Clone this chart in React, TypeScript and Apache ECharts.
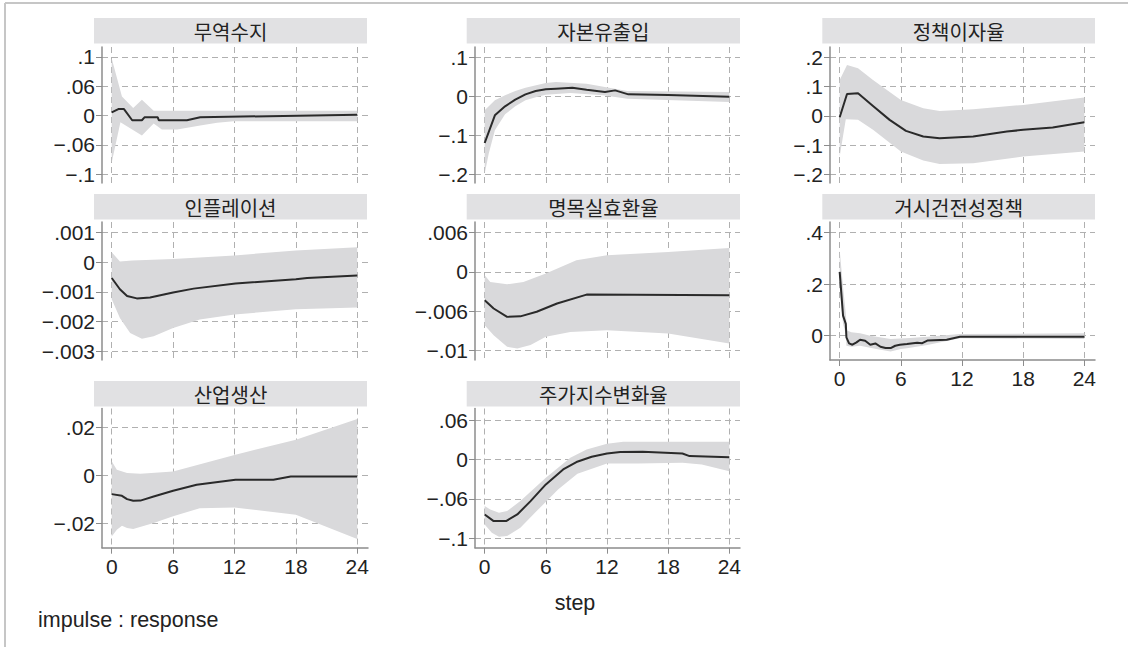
import React, { useEffect, useRef } from "react";
import * as echarts from "echarts";

// ---------- data ----------
const panelTitles = ["무역수지", "자본유출입", "정책이자율", "인플레이션", "명목실효환율", "거시건전성정책", "산업생산", "주가지수변화율"];
const stepTicks = [0, 6, 12, 18, 24];

// 무역수지
const tradeIrf = [[0, 0.0067], [0.65, 0.0135], [1.2, 0.0135], [2, -0.0094], [2.95, -0.0094], [3.2, -0.0034], [4.5, -0.0034], [4.6, -0.0094], [7.35, -0.0094], [8.65, -0.0034], [24, 0.002]];
const tradeUpper = [[0, 0.1167], [1, 0.0391], [2.1, 0.0155], [2.95, 0.0324], [4.1, 0.0101], [24, 0.0101]];
const tradeLower = [[0, -0.096], [0.85, -0.0135], [2.95, -0.0405], [4.1, -0.0162], [4.9, -0.0283], [6.4, -0.0283], [8.65, -0.0202], [10.3, -0.0148], [11.9, -0.0115], [24, -0.0115]];
const tradeTicks = [-0.12, -0.06, 0, 0.06, 0.12];
const tradeLabels = ["−.1", "−.06", "0", ".06", ".1"];

// 자본유출입
const capitalIrf = [[0, -0.12], [1, -0.0488], [2, -0.0257], [3, -0.0086], [4, 0.0051], [5, 0.0137], [6, 0.018], [7, 0.0197], [8.6, 0.0223], [10, 0.0171], [11.8, 0.011], [12.8, 0.0154], [14.1, 0.0051], [18, 0.0034], [24, -0.0009]];
const capitalUpper = [[0, -0.036], [1, -0.0103], [2, 0.0026], [3, 0.0137], [4, 0.0223], [6, 0.0343], [7, 0.0368], [10, 0.0326], [12.2, 0.0223], [14, 0.0137], [24, 0.011]];
const capitalLower = [[0, -0.1988], [0.4, -0.147], [1, -0.0874], [2, -0.0463], [3, -0.0257], [4, -0.0103], [5.1, -0.0017], [6, 0.0043], [8.4, 0.0086], [11.6, 0.0026], [14, -0.006], [24, -0.0146]];
const capitalTicks = [-0.2, -0.1, 0, 0.1];
const capitalLabels = ["−.2", "−.1", "0", ".1"];

// 정책이자율
const rateIrf = [[0, -0.0046], [0.72, 0.0752], [1.8, 0.0775], [3.27, 0.0342], [4.9, -0.0137], [6.5, -0.0513], [8.2, -0.0707], [9.8, -0.0764], [13.1, -0.0707], [16.4, -0.0536], [18, -0.0479], [20.9, -0.0399], [24, -0.0217]];
const rateUpper = [[0, 0.123], [0.72, 0.174], [1.8, 0.163], [3.27, 0.123], [6, 0.0547], [8.2, 0.0262], [9.8, 0.0171], [13.1, 0.0228], [18, 0.0376], [24, 0.0627]];
const rateLower = [[0, -0.139], [0.6, -0.0114], [1.8, -0.0137], [3.27, -0.0479], [6, -0.122], [8.2, -0.153], [9.8, -0.165], [13.1, -0.162], [18, -0.139], [24, -0.122]];
const rateTicks = [-0.2, -0.1, 0, 0.1, 0.2];
const rateLabels = ["−.2", "−.1", "0", ".1", ".2"];

// 인플레이션
const inflIrf = [[0, -0.00053], [0.8, -0.00091], [1.5, -0.00114], [2.45, -0.00122], [3.75, -0.00119], [6, -0.00102], [8, -0.00089], [12.1, -0.00072], [18, -0.00057], [19.1, -0.00053], [24, -0.00045]];
const inflUpper = [[0, 0.00034], [0.8, 0.00003], [2, 0.00006], [6, 0.00011], [12, 0.00023], [18, 0.0004], [24, 0.00051]];
const inflLower = [[0, -0.00125], [0.8, -0.00188], [1.8, -0.00239], [2.95, -0.00258], [4.1, -0.0025], [6, -0.00222], [8.6, -0.00193], [12, -0.00176], [18, -0.00159], [24, -0.00153]];
const inflTicks = [-0.003, -0.002, -0.001, 0, 0.001];
const inflLabels = ["−.003", "−.002", "−.001", "0", ".001"];

// 명목실효환율
const fxIrf = [[0, -0.00433], [0.88, -0.0056], [2.2, -0.00688], [3.5, -0.0068], [5.1, -0.0061], [7.1, -0.00484], [10, -0.00347], [24, -0.00357]];
const fxUpper = [[0, -0.0005], [0.55, -0.00153], [2.2, -0.00189], [3.8, -0.00153], [6, -0.00025], [9, 0.0018], [12, 0.00255], [18, 0.00306], [24, 0.00367]];
const fxLower = [[0, -0.00816], [0.88, -0.0097], [2.2, -0.01147], [3.2, -0.01172], [4.5, -0.0112], [6, -0.00994], [8.4, -0.00918], [12, -0.00892], [18, -0.00943], [24, -0.01096]];
const fxTicks = [-0.012, -0.006, 0, 0.006];
const fxLabels = ["−.01", "−.006", "0", ".006"];

// 거시건전성정책
const macroIrf = [[0, 0.248], [0.33, 0.078], [0.6, 0.046], [0.66, -0.0065], [0.92, -0.03], [1.25, -0.035], [1.65, -0.026], [2, -0.0156], [2.5, -0.0195], [3, -0.035], [3.5, -0.03], [4, -0.043], [4.5, -0.048], [5, -0.048], [5.45, -0.039], [5.9, -0.035], [6.6, -0.032], [7.6, -0.027], [8.1, -0.029], [8.6, -0.019], [10.5, -0.016], [11.8, -0.004], [24, -0.004]];
const macroUpper = [[0, 0.332], [0.33, 0.189], [0.6, 0.085], [0.73, 0.02], [1.15, 0.013], [2, 0.009], [3, 0], [5, -0.013], [6.9, -0.009], [8.6, -0.004], [11.8, 0.0065], [24, 0.009]];
const macroLower = [[0, 0.189], [0.33, 0.046], [0.6, 0.0065], [0.66, -0.039], [1.15, -0.043], [2, -0.039], [3.6, -0.052], [5, -0.061], [6, -0.052], [6.6, -0.049], [8.6, -0.036], [11.8, -0.01], [24, -0.013]];
const macroTicks = [0, 0.2, 0.4];
const macroLabels = ["0", ".2", ".4"];

// 산업생산
const ipIrf = [[0, -0.0078], [1, -0.0085], [1.5, -0.0099], [2.1, -0.0106], [2.8, -0.0105], [4.1, -0.0088], [6, -0.0064], [8.3, -0.0039], [10, -0.0029], [12.1, -0.0018], [15.8, -0.0018], [17.5, -0.0004], [24, -0.0004]];
const ipUpper = [[0, 0.0059], [0.5, 0.0024], [1.5, 0.001], [2.8, 0.0007], [6, 0.0017], [12, 0.0086], [18, 0.0149], [24, 0.0236]];
const ipLower = [[0, -0.0255], [0.5, -0.0227], [1, -0.021], [1.5, -0.022], [2.1, -0.0224], [4.1, -0.0199], [6, -0.0171], [8.6, -0.0137], [12, -0.0134], [18, -0.0164], [24, -0.0266]];
const ipTicks = [-0.02, 0, 0.02];
const ipLabels = ["−.02", "0", ".02"];

// 주가지수변화율
const stockIrf = [[0, -0.0837], [0.88, -0.0938], [2.1, -0.0938], [3.2, -0.0837], [4.5, -0.0634], [6, -0.038], [7.7, -0.0152], [9, -0.004], [10.5, 0.004], [12, 0.0091], [13.3, 0.0112], [15.5, 0.0117], [19.4, 0.0091], [20.1, 0.0051], [24, 0.0035]];
const stockUpper = [[0, -0.071], [0.55, -0.076], [1.4, -0.081], [2.2, -0.0786], [3.5, -0.0634], [6, -0.0279], [8.4, 0.0025], [10, 0.0152], [12, 0.0238], [13.6, 0.0269], [24, 0.0269]];
const stockLower = [[0, -0.0989], [0.7, -0.1116], [1.4, -0.1177], [2.2, -0.1166], [3.5, -0.104], [5.1, -0.0786], [7.2, -0.0456], [9.1, -0.0218], [12, -0.0061], [15, -0.0061], [19.4, -0.0051], [21.3, -0.0076], [24, -0.0178]];
const stockTicks = [-0.12, -0.06, 0, 0.06];
const stockLabels = ["−.1", "−.06", "0", ".06"];

// ---------- layout ----------
const colLeft = [102, 475, 830];
const colWidth = [266, 265, 265];
const barLeft = [94, 466.7, 822.3];
const barRight = [367, 740, 1095];
const rowTop = [47, 222, 408.5];
const rowBottom = [183, 360, 547.7];
const barTop = [18, 194, 381];
const barHeight = 25.5;

const panels = [
  { irf: tradeIrf, up: tradeUpper, lo: tradeLower, ticks: tradeTicks, labels: tradeLabels, min: -0.1378, max: 0.1404, col: 0, row: 0, showX: false },
  { irf: capitalIrf, up: capitalUpper, lo: capitalLower, ticks: capitalTicks, labels: capitalLabels, min: -0.223, max: 0.127, col: 1, row: 0, showX: false },
  { irf: rateIrf, up: rateUpper, lo: rateLower, ticks: rateTicks, labels: rateLabels, min: -0.23, max: 0.236, col: 2, row: 0, showX: false },
  { irf: inflIrf, up: inflUpper, lo: inflLower, ticks: inflTicks, labels: inflLabels, min: -0.0033, max: 0.00136, col: 0, row: 1, showX: false },
  { irf: fxIrf, up: fxUpper, lo: fxLower, ticks: fxTicks, labels: fxLabels, min: -0.01348, max: 0.00764, col: 1, row: 1, showX: false },
  { irf: macroIrf, up: macroUpper, lo: macroLower, ticks: macroTicks, labels: macroLabels, min: -0.0944, max: 0.4415, col: 2, row: 1, showX: true },
  { irf: ipIrf, up: ipUpper, lo: ipLower, ticks: ipTicks, labels: ipLabels, min: -0.0302, max: 0.028, col: 0, row: 2, showX: true },
  { irf: stockIrf, up: stockUpper, lo: stockLower, ticks: stockTicks, labels: stockLabels, min: -0.1343, max: 0.0775, col: 1, row: 2, showX: true },
];

const FONT = "Liberation Sans";
const KFONT = "Noto Sans CJK KR";
const AXIS_COLOR = "#8c8c8c";
const GRID_COLOR = "#b0b0b0";
const BAND_COLOR = "#d9d9db";
const LINE_COLOR = "#2a2a2a";
const BAR_COLOR = "#e1e1e3";

export default function App() {
  const ref = useRef<HTMLDivElement>(null);
  useEffect(() => {
    if (!ref.current) return;
    const chart = echarts.init(ref.current, null, { renderer: "svg" });

    const grid: any[] = [];
    const xAxis: any[] = [];
    const yAxis: any[] = [];
    const series: any[] = [];
    const graphic: any[] = [
      { type: "line", shape: { x1: 5, y1: 3, x2: 1128, y2: 3 }, style: { stroke: "#c6c6c6", lineWidth: 2 } },
      { type: "line", shape: { x1: 5, y1: 3, x2: 5, y2: 647 }, style: { stroke: "#c6c6c6", lineWidth: 2 } },
      { type: "text", x: 38, y: 620, style: { text: "impulse : response", fontSize: 21.5, fontFamily: FONT, fill: "#222", textAlign: "left", textVerticalAlign: "middle" } },
      { type: "text", x: 575, y: 603, style: { text: "step", fontSize: 21.5, fontFamily: FONT, fill: "#222", textAlign: "center", textVerticalAlign: "middle" } },
    ];

    panels.forEach((p, i) => {
      const c = p.col, r = p.row;
      grid.push({ left: colLeft[c], top: rowTop[r], width: colWidth[c], height: rowBottom[r] - rowTop[r], containLabel: false });
      xAxis.push({
        type: "value", gridIndex: i, min: -0.95, max: 25.05,
        axisLine: { show: p.showX, onZero: false, lineStyle: { color: AXIS_COLOR, width: 1.5 } },
        axisTick: { show: p.showX, customValues: stepTicks, length: 6, lineStyle: { color: AXIS_COLOR } },
        axisLabel: { show: p.showX, customValues: stepTicks, fontSize: 21, fontFamily: FONT, color: "#222", margin: 8 },
        splitLine: { show: true, lineStyle: { type: [6, 4], color: GRID_COLOR, width: 1 } },
      });
      const ticks = p.ticks, labels = p.labels;
      yAxis.push({
        type: "value", gridIndex: i, min: p.min, max: p.max,
        axisLine: { show: true, onZero: false, lineStyle: { color: AXIS_COLOR, width: 1.5 } },
        axisTick: { show: true, customValues: ticks, length: 6, lineStyle: { color: AXIS_COLOR } },
        axisLabel: {
          customValues: ticks, fontSize: 21, fontFamily: FONT, color: "#222", margin: 7,
          formatter: (v: number) => {
            const k = ticks.findIndex((t) => Math.abs(t - v) < 1e-9);
            return k >= 0 ? labels[k] : "";
          },
        },
        splitLine: { show: true, lineStyle: { type: [6, 4], color: GRID_COLOR, width: 1 } },
      });
      const up = p.up, lo = p.lo;
      series.push({
        type: "custom", xAxisIndex: i, yAxisIndex: i, silent: true, z: 1, clip: true,
        data: up,
        renderItem: (params: any, api: any) => {
          if (params.dataIndex !== 0) return null;
          const pts = up.map((q) => api.coord(q)).concat(lo.slice().reverse().map((q) => api.coord(q)));
          return { type: "polygon", shape: { points: pts }, style: { fill: BAND_COLOR, stroke: null } };
        },
      });
      series.push({
        type: "line", xAxisIndex: i, yAxisIndex: i, data: p.irf, symbol: "none", silent: true, z: 3,
        lineStyle: { color: LINE_COLOR, width: 2 },
      });
      graphic.push({ type: "rect", shape: { x: barLeft[c], y: barTop[r], width: barRight[c] - barLeft[c], height: barHeight }, style: { fill: BAR_COLOR } });
      graphic.push({
        type: "text", x: (barLeft[c] + barRight[c]) / 2, y: barTop[r] + barHeight / 2 + 1,
        style: { text: panelTitles[i], fontSize: 20, fontFamily: KFONT, fill: "#222", textAlign: "center", textVerticalAlign: "middle" },
      });
    });

    chart.setOption({ animation: false, backgroundColor: "#ffffff", grid, xAxis, yAxis, series, graphic });
    return () => chart.dispose();
  }, []);
  return <div ref={ref} style={{ position: "fixed", left: 0, top: 0, width: 1128, height: 647 }} />;
}
